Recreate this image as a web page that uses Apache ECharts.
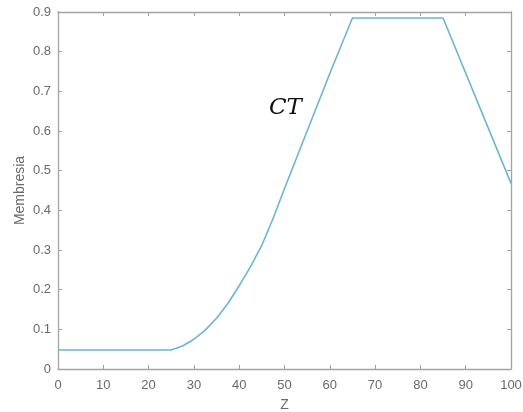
<!DOCTYPE html>
<html>
<head>
<meta charset="utf-8">
<script src="https://cdn.jsdelivr.net/npm/echarts@6/dist/echarts.min.js"></script>
<style>
  html, body { margin: 0; padding: 0; background: #fff; }
  #chart { width: 523px; height: 412px; }
</style>
</head>
<body>
<div id="chart"></div>
<script>
// valores
const zValues = [0, 25, 27.5, 30, 32.5, 35, 37.5, 40, 42.5, 45, 47.5, 50, 55, 60, 65, 85, 100];
const ctValues = [0.048, 0.048, 0.058, 0.075, 0.098, 0.128, 0.165, 0.210, 0.258, 0.312, 0.380, 0.455, 0.600, 0.745, 0.885, 0.885, 0.468];
const xTicks = [0, 10, 20, 30, 40, 50, 60, 70, 80, 90, 100];
const yTicks = [0, 0.1, 0.2, 0.3, 0.4, 0.5, 0.6, 0.7, 0.8, 0.9];

const chart = echarts.init(document.getElementById('chart'));

const frameColor = '#a3a3a3';
const labelColor = '#6a6a6a';
const font = 'Liberation Sans, Arial, sans-serif';

const baseAxis = {
    axisLine: { show: true, onZero: false, lineStyle: { color: frameColor, width: 1.3 } },
    axisTick: { show: true, inside: true, length: 4, lineStyle: { color: frameColor } },
    splitLine: { show: false }
};

const option = {
    animation: false,
    grid: { left: 58, right: 12, top: 12, bottom: 43, outerBoundsMode: 'none' },
    xAxis: [
        Object.assign({}, baseAxis, {
            type: 'value',
            min: xTicks[0],
            max: xTicks[xTicks.length - 1],
            interval: 10,
            name: 'Z',
            nameLocation: 'middle',
            nameGap: 29,
            nameTextStyle: { color: labelColor, fontSize: 14, fontFamily: font },
            axisLabel: { color: labelColor, fontSize: 13, fontFamily: font, margin: 10 }
        }),
        Object.assign({}, baseAxis, {
            type: 'value',
            position: 'top',
            min: xTicks[0],
            max: xTicks[xTicks.length - 1],
            interval: 10,
            axisLabel: { show: false }
        })
    ],
    yAxis: [
        Object.assign({}, baseAxis, {
            type: 'value',
            min: yTicks[0],
            max: yTicks[yTicks.length - 1],
            interval: 0.1,
            name: 'Membresia',
            nameLocation: 'middle',
            nameGap: 31,
            nameMoveOverlap: false,
            nameTextStyle: { color: labelColor, fontSize: 14, fontFamily: font },
            axisLabel: { color: labelColor, fontSize: 13, fontFamily: font, margin: 7 }
        }),
        Object.assign({}, baseAxis, {
            type: 'value',
            position: 'right',
            min: yTicks[0],
            max: yTicks[yTicks.length - 1],
            interval: 0.1,
            axisLabel: { show: false }
        })
    ],
    graphic: [
        {
            type: 'text',
            left: 269,
            top: 97,
            style: {
                text: 'CT',
                fill: '#111',
                font: 'italic 23px "DejaVu Serif", "Liberation Serif", serif'
            }
        }
    ],
    series: [
        {
            name: 'CT',
            type: 'line',
            showSymbol: false,
            smooth: false,
            lineStyle: { color: '#6cb4d6', width: 1.6 },
            data: zValues.map((z, i) => [z, ctValues[i]])
        }
    ]
};

chart.setOption(option);
</script>
</body>
</html>
